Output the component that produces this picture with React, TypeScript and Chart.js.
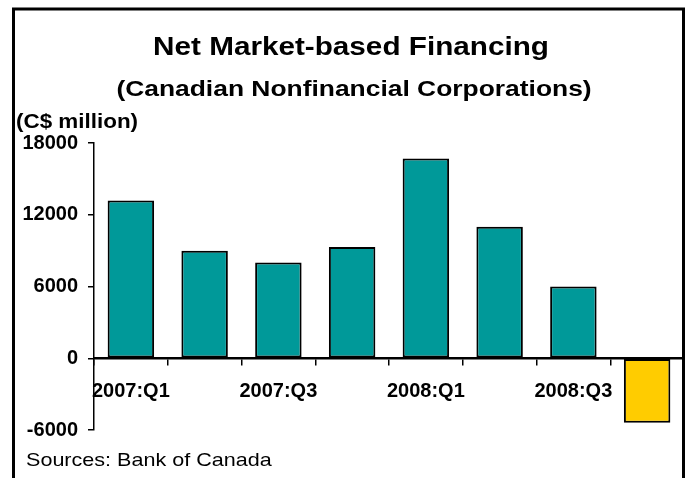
import { useEffect, useRef } from 'react';
import { Chart, registerables } from 'chart.js';

Chart.register(...registerables);

// Quarterly net market-based financing, C$ million
const quarters = ['2007:Q1', '2007:Q2', '2007:Q3', '2007:Q4', '2008:Q1', '2008:Q2', '2008:Q3', '2008:Q4'];
const financing = [13200, 9000, 8000, 9300, 16700, 11000, 6000, -5400];
const quarterLabels = ['2007:Q1', '', '2007:Q3', '', '2008:Q1', '', '2008:Q3', ''];
const yTickValues = [-6000, 0, 6000, 12000, 18000];

const TEAL = '#009999';
const GOLD = '#FFCC00';
const FONT = '"Liberation Sans", Arial, Helvetica, sans-serif';

function drawStretched(
  ctx: CanvasRenderingContext2D,
  text: string,
  x: number,
  y: number,
  font: string,
  sx: number,
  align: 'left' | 'center'
) {
  ctx.save();
  ctx.font = font;
  ctx.textAlign = 'left';
  ctx.textBaseline = 'alphabetic';
  const w = ctx.measureText(text).width * sx;
  const left = align === 'center' ? x - w / 2 : x;
  ctx.translate(left, y);
  ctx.scale(sx, 1);
  ctx.fillStyle = '#000';
  ctx.fillText(text, 0, 0);
  ctx.restore();
}

const frameAndText = {
  id: 'frameAndText',
  afterDraw(chart: Chart) {
    const ctx = chart.ctx;
    ctx.save();
    ctx.strokeStyle = '#000';
    ctx.lineWidth = 3;
    ctx.beginPath();
    ctx.moveTo(13.5, 520);
    ctx.lineTo(13.5, 9);
    ctx.lineTo(683.5, 9);
    ctx.lineTo(683.5, 520);
    ctx.stroke();
    ctx.restore();

    drawStretched(ctx, 'Net Market-based Financing', 351, 55, `bold 26.5px ${FONT}`, 1.12, 'center');
    drawStretched(ctx, '(Canadian Nonfinancial Corporations)', 354, 96, `bold 22px ${FONT}`, 1.2, 'center');
    drawStretched(ctx, '(C$ million)', 16, 128, `bold 19.5px ${FONT}`, 1.15, 'left');
    drawStretched(ctx, 'Sources: Bank of Canada', 26, 466, `19px ${FONT}`, 1.135, 'left');
  },
};

export default function App() {
  const canvasRef = useRef<HTMLCanvasElement | null>(null);

  useEffect(() => {
    const canvas = canvasRef.current;
    if (!canvas) return;
    const lastIndex = financing.length - 1;
    const chart = new Chart(canvas, {
      type: 'bar',
      data: {
        labels: quarters,
        datasets: [
          {
            data: financing,
            backgroundColor: (c: any) => (c.dataIndex === lastIndex ? GOLD : TEAL),
            borderColor: '#000',
            borderWidth: 2,
            borderSkipped: false,
            barPercentage: 0.63,
            categoryPercentage: 1,
          },
        ],
      },
      options: {
        responsive: false,
        animation: false,
        devicePixelRatio: 1,
        layout: { padding: { top: 143, bottom: 48, left: 0, right: 7 } },
        plugins: {
          legend: { display: false },
          tooltip: { enabled: false },
          title: { display: false },
        },
        scales: {
          x: {
            position: { y: 0 } as any,
            grid: {
              drawOnChartArea: false,
              drawTicks: true,
              tickLength: 6,
              color: '#000',
              lineWidth: 1.5,
              offset: true,
            },
            border: { color: '#000', width: 2.5 },
            ticks: {
              autoSkip: false,
              maxRotation: 0,
              minRotation: 0,
              color: '#000',
              padding: 15,
              font: { family: FONT, size: 20, weight: 'bold' },
              callback: (_v: any, i: number) => quarterLabels[i],
            },
            afterFit: (s: any) => {
              s.height = 0;
            },
          },
          y: {
            min: -6000,
            max: 18000,
            afterBuildTicks: (s: any) => {
              s.ticks = yTickValues.map((v) => ({ value: v }));
            },
            grid: {
              drawOnChartArea: false,
              tickLength: 6,
              color: '#000',
              lineWidth: 1.5,
            },
            border: { color: '#000', width: 1.5 },
            ticks: {
              color: '#000',
              padding: 10,
              font: { family: FONT, size: 20, weight: 'bold' },
              callback: (v: any) => String(v),
            },
            afterFit: (s: any) => {
              s.width = 94;
            },
          },
        },
      },
      plugins: [frameAndText],
    });
    return () => chart.destroy();
  }, []);

  return (
    <div style={{ position: 'absolute', left: 0, top: 0, width: 691, height: 478, background: '#fff' }}>
      <canvas ref={canvasRef} width={691} height={478} style={{ display: 'block' }} />
    </div>
  );
}
